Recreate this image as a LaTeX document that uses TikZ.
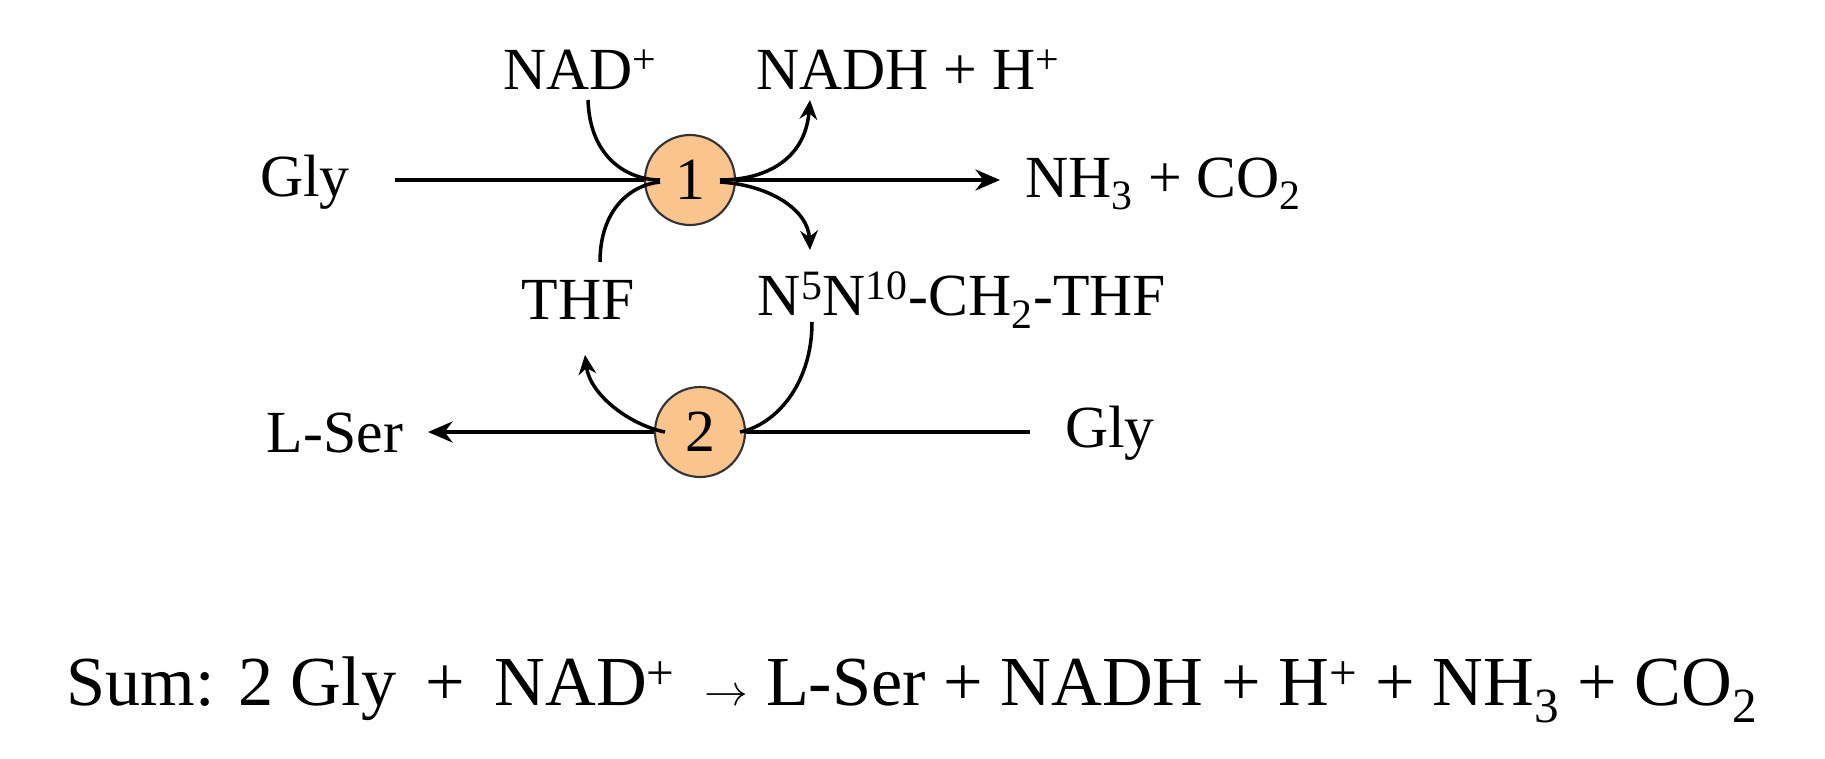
\documentclass[tikz,border=0pt]{standalone}
\usepackage{fontspec}
\setmainfont{Liberation Serif}
\usetikzlibrary{arrows.meta}
\definecolor{enzfill}{HTML}{F9C48E}
\tikzset{
	lbl/.style = {font=\fontsize{34}{40}\selectfont, inner sep=0pt},
	enz/.style = {circle, draw=black!80, line width=1.2pt, fill=enzfill, minimum size=1.8cm, font=\fontsize{34}{40}\selectfont},
	flow/.style = {line width=2pt, -{Stealth[length=14pt, width=12pt]}},
	side/.style = {line width=2pt},
	sidea/.style = {line width=2pt, -{Stealth[length=11pt, width=10pt]}}
}
\begin{document}
\begin{tikzpicture}[x=0.02cm, y=-0.02cm]
	\useasboundingbox (0,0) rectangle (1825,758);
	% reaction 1
	\node[lbl] (gly1) at (305,182) {Gly};
	\node[lbl, anchor=west] (prod1) at (1025,184) {NH\textsubscript{3} + CO\textsubscript{2}};
	\node[lbl] (nad) at (580,70) {NAD\textsuperscript{+}};
	\node[lbl] (nadh) at (908,70) {NADH + H\textsuperscript{+}};
	\coordinate (l1) at (395,180);
	\coordinate (r1) at (1000,180);
	\draw[flow] (l1) -- (r1);
	\node[enz] (e1) at (690,180) {1};
	% reaction 2
	\node[lbl] (ser) at (335,433) {L-Ser};
	\node[lbl] (gly2) at (1110,433) {Gly};
	\node[lbl] (thf) at (578,300) {THF};
	\node[lbl] (mthf) at (962,300) {N\textsuperscript{5}N\textsuperscript{10}-CH\textsubscript{2}-THF};
	\coordinate (l2) at (428,432);
	\coordinate (r2) at (1030,432);
	\draw[flow] (r2) -- (l2);
	\node[enz] (e2) at (700,432) {2};
	% cofactor arcs
	\draw[side] (588,100) .. controls (590,160) and (630,180) .. (660,180);
	\draw[sidea] (720,180) .. controls (765,180) and (805,160) .. (810,100);
	\draw[side] (600,262) .. controls (600,210) and (630,185) .. (660,182);
	\draw[sidea] (720,182) .. controls (770,185) and (808,210) .. (810,250);
	\draw[side] (812,322) .. controls (812,385) and (775,425) .. (740,432);
	\draw[sidea] (665,432) .. controls (630,425) and (590,395) .. (585,355);
	% overall
	\node[lbl, font=\fontsize{40}{46}\selectfont] (sum) at (912,690) {Sum: 2 Gly \,+\, NAD\textsuperscript{+} \,$\rightarrow$ L-Ser + NADH + H\textsuperscript{+} + NH\textsubscript{3} + CO\textsubscript{2}};
\end{tikzpicture}
\end{document}
